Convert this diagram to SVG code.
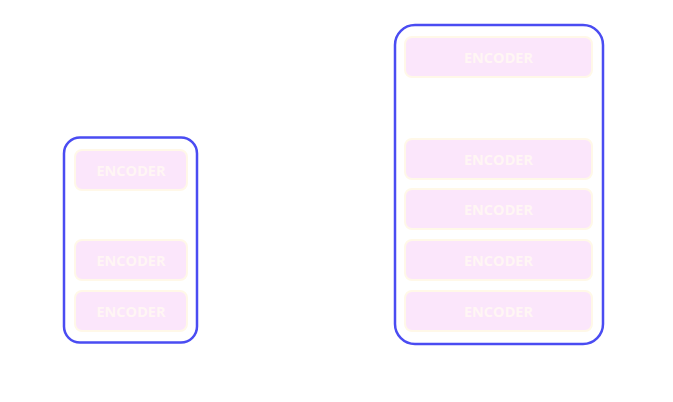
<svg xmlns="http://www.w3.org/2000/svg" width="673" height="402" viewBox="0 0 673 402">
<style>
.container{fill:none;stroke:#4a4cf2;stroke-width:2.5}
.enc rect{fill:#fbe6fb;stroke:#fff8e8;stroke-width:2}
.enc text{font-family:"Open Sans",sans-serif;font-size:14.5px;font-weight:700;fill:#fff6f4;text-anchor:middle;dominant-baseline:central}
</style>
<rect width="673" height="402" fill="#ffffff"/>
<g id="container-left"><rect class="container" x="64" y="137.5" width="133" height="205" rx="16"/></g>
<g id="container-right"><rect class="container" x="395" y="25" width="208" height="319" rx="20"/></g>
<g id="enc-l1" class="enc"><rect x="75" y="150" width="112" height="40" rx="7"/><text x="131" y="170">ENCODER</text></g>
<g id="enc-l2" class="enc"><rect x="75" y="240" width="112" height="40" rx="7"/><text x="131" y="260">ENCODER</text></g>
<g id="enc-l3" class="enc"><rect x="75" y="291" width="112" height="40" rx="7"/><text x="131" y="311">ENCODER</text></g>
<g id="enc-r1" class="enc"><rect x="405" y="37" width="187" height="40" rx="7"/><text x="498.5" y="57">ENCODER</text></g>
<g id="enc-r2" class="enc"><rect x="405" y="139" width="187" height="40" rx="7"/><text x="498.5" y="159">ENCODER</text></g>
<g id="enc-r3" class="enc"><rect x="405" y="189" width="187" height="40" rx="7"/><text x="498.5" y="209">ENCODER</text></g>
<g id="enc-r4" class="enc"><rect x="405" y="240" width="187" height="40" rx="7"/><text x="498.5" y="260">ENCODER</text></g>
<g id="enc-r5" class="enc"><rect x="405" y="291" width="187" height="40" rx="7"/><text x="498.5" y="311">ENCODER</text></g>
<g id="connectors"></g>
</svg>
